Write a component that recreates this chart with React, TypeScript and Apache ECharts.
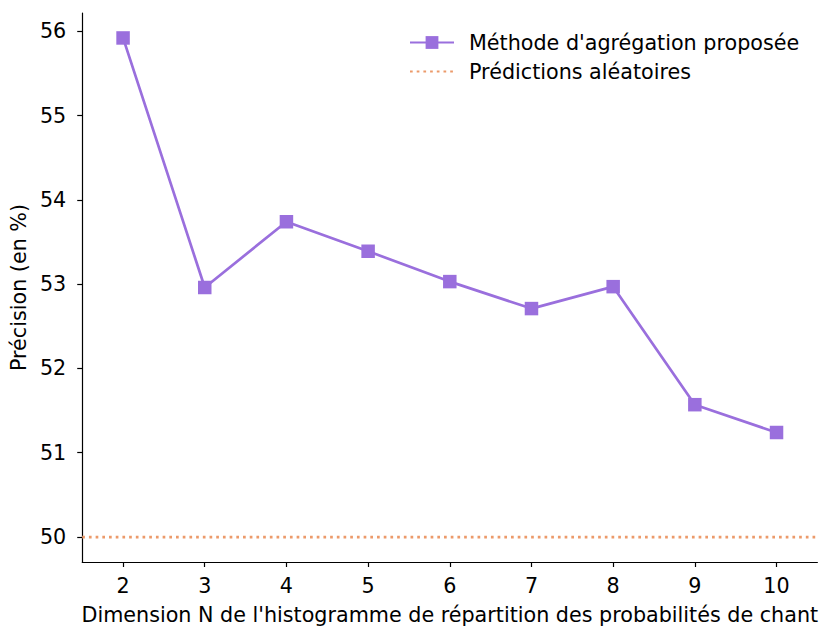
import React, { useEffect, useRef } from "react";
import * as echarts from "echarts";

const dimensions = [2, 3, 4, 5, 6, 7, 8, 9, 10];
const precision = [55.92, 52.96, 53.74, 53.39, 53.03, 52.71, 52.97, 51.57, 51.24];
const randomLevel = 50;
const xTicks = [2, 3, 4, 5, 6, 7, 8, 9, 10];
const yTicks = [50, 51, 52, 53, 54, 55, 56];
const seriesNames = ["Méthode d'agrégation proposée", "Prédictions aléatoires"];

export default function App() {
  const ref = useRef<HTMLDivElement>(null);
  useEffect(() => {
    if (!ref.current) return;
    const chart = echarts.init(ref.current, null, { renderer: "svg" });
    const font = "DejaVu Sans";
    const fs = 20.7;
    const purple = "#9A6FDD";
    const orange = "#EC9A6A";
    chart.setOption({
      animation: false,
      textStyle: { fontFamily: font },
      grid: { left: 80, right: 2, top: 13, bottom: 67, containLabel: false },
      legend: {
        orient: "vertical",
        left: 409,
        top: 31,
        padding: 0,
        itemWidth: 44,
        itemHeight: 16,
        itemGap: 6,
        data: [
          { name: seriesNames[0] },
          { name: seriesNames[1], itemStyle: { opacity: 0 } },
        ],
        textStyle: {
          fontFamily: font,
          fontSize: fs,
          color: "#000",
          lineHeight: 23,
          padding: [0, 0, 0, 10],
        },
      },
      xAxis: {
        type: "value",
        min: 1.5,
        max: 10.5,
        splitLine: { show: false },
        axisLine: { show: true, onZero: false, lineStyle: { color: "#000", width: 1.2 } },
        axisTick: { show: true, length: 5, lineStyle: { color: "#000", width: 1.2 }, customValues: xTicks },
        axisLabel: { fontSize: fs, color: "#000", margin: 13, fontFamily: font, customValues: xTicks },
        name: "Dimension N de l'histogramme de répartition des probabilités de chant",
        nameLocation: "middle",
        nameGap: 42,
        nameTextStyle: { fontSize: fs, color: "#000", fontFamily: font },
      },
      yAxis: {
        type: "value",
        min: 49.704,
        max: 56.216,
        splitLine: { show: false },
        axisLine: { show: true, onZero: false, lineStyle: { color: "#000", width: 1.2 } },
        axisTick: { show: true, length: 5, lineStyle: { color: "#000", width: 1.2 }, customValues: yTicks },
        axisLabel: { fontSize: fs, color: "#000", margin: 16, fontFamily: font, customValues: yTicks },
        name: "Précision (en %)",
        nameLocation: "middle",
        nameGap: 50,
        nameRotate: 90,
        nameTextStyle: { fontSize: fs, color: "#000", fontFamily: font },
      },
      series: [
        {
          name: seriesNames[0],
          type: "line",
          data: dimensions.map((d, i) => [d, precision[i]]),
          symbol: "rect",
          symbolSize: 13.5,
          itemStyle: { color: purple },
          lineStyle: { color: purple, width: 2.7 },
          z: 3,
        },
        {
          name: seriesNames[1],
          type: "line",
          data: [[1.5, randomLevel], [10.5, randomLevel]],
          symbol: "none",
          itemStyle: { color: orange },
          lineStyle: { color: orange, width: 2.7, type: [2.7, 4.0] },
          z: 2,
        },
      ],
    });
    return () => chart.dispose();
  }, []);
  return <div ref={ref} style={{ width: 820, height: 630, position: "absolute", left: 0, top: 0 }} />;
}
